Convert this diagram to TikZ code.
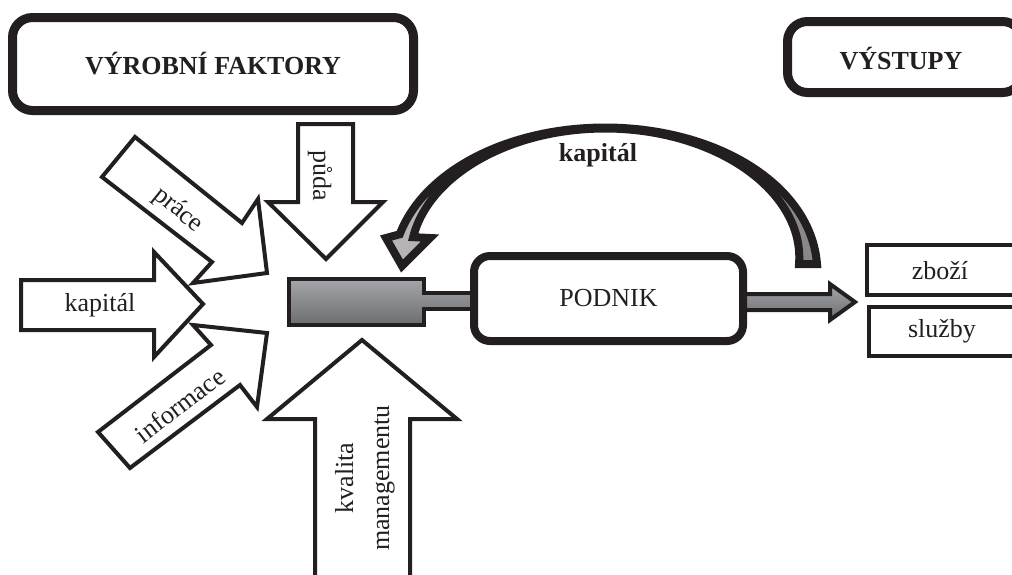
\documentclass[tikz,border=0pt]{standalone}
\usepackage{fontspec}
\setmainfont{Liberation Serif}
\definecolor{inkc}{RGB}{35,31,32}
\definecolor{blockT}{RGB}{164,166,169}
\definecolor{blockB}{RGB}{108,109,112}
\definecolor{curvL}{RGB}{184,182,182}
\definecolor{curvR}{RGB}{138,134,134}
\begin{document}
\begin{tikzpicture}[x=0.5pt,y=-0.5pt,
  declare function={wd(\t)=1+17*((\t-90)/90)^2;},
  txt/.style={text=inkc, font=\fontsize{13}{16}\selectfont, inner sep=0pt},
  btxt/.style={text=inkc, font=\bfseries\fontsize{13}{16}\selectfont, inner sep=0pt},
  bigbox/.style={draw=inkc, line width=4.5pt, rounded corners=10pt, fill=white, inner sep=0pt},
  midbox/.style={draw=inkc, line width=4pt, rounded corners=8pt, fill=white, inner sep=0pt},
  outbox/.style={draw=inkc, line width=2pt, fill=white, inner sep=0pt},
  wharrow/.style={draw=inkc, line width=2pt, fill=white, line join=miter},
  grayshape/.style={draw=inkc, line width=2pt, line join=miter, top color=blockT, bottom color=blockB},
  curvarrow/.style={draw=inkc, line width=4pt, line join=miter, left color=curvL, right color=curvR}]
\useasboundingbox (0,0) rectangle (1012,574);

% header boxes
\node[bigbox, btxt, minimum width=200.5pt, minimum height=46.5pt] (vf) at (213,64) {VÝROBNÍ FAKTORY};
\node[bigbox, minimum width=117.5pt, minimum height=35.5pt] (vy) at (905,57) {};
\node[btxt] (vyt) at (901,59) {VÝSTUPY};

% input arrows
\draw[wharrow] (135,137) -- (242,223) -- (258,199) -- (267,273) -- (193,283) -- (212,262) -- (102,177) -- cycle;
\node[txt, rotate=-39] (prace) at (178,210) {práce};

\draw[wharrow] (21,280) -- (154,280) -- (154,252) -- (203,304) -- (154,357) -- (154,330) -- (21,330) -- cycle;
\node[txt] (kap) at (100,305) {kapitál};

\draw[wharrow] (98,432) -- (211,345) -- (193,325) -- (267,333) -- (257,407) -- (240,385) -- (130,468) -- cycle;
\node[txt, rotate=37.6] (inf) at (180,405) {informace};

\draw[wharrow] (298,124) -- (353,124) -- (353,202) -- (383,202) -- (326,259) -- (268,202) -- (298,202) -- cycle;
\node[txt, rotate=-90] (puda) at (320,176) {půda};

\draw[wharrow] (315,590) -- (315,419) -- (267,419) -- (362,340) -- (457,419) -- (410,419) -- (410,590) -- cycle;
\node[txt, rotate=90, align=center] (km) at (365,478) {kvalita\\[2pt]managementu};

% central gray block and output arrow
\draw[grayshape] (289,279) -- (424,279) -- (424,293) -- (490,293) -- (490,309) -- (424,309) -- (424,325) -- (289,325) -- cycle;
\draw[grayshape] (730,294) -- (830,294) -- (830,284) -- (855,302) -- (830,320) -- (830,310) -- (730,310) -- cycle;

% PODNIK
\node[midbox, txt, minimum width=134.5pt, minimum height=42.5pt] (podnik) at (608.5,298.5) {PODNIK};

% curved capital arrow
\draw[curvarrow]
  plot[domain=0:168, samples=90] ({605+(203+wd(\x)/2)*cos(\x)}, {264-(136+wd(\x)/2)*sin(\x)})
  -- (386,238) -- (402,266) -- (430,238)
  -- plot[domain=168:0, samples=90] ({605+(203-wd(\x)/2)*cos(\x)}, {264-(136-wd(\x)/2)*sin(\x)})
  -- cycle;
\node[btxt] (kapt) at (598,155) {kapitál};

% outputs
\node[outbox, minimum width=76pt, minimum height=25pt] (zbozi) at (943,270) {};
\node[txt] (zbt) at (940,271) {zboží};
\node[outbox, minimum width=75pt, minimum height=24.5pt] (sluzby) at (944,331.5) {};
\node[txt] (slt) at (942,331) {služby};
\end{tikzpicture}
\end{document}
